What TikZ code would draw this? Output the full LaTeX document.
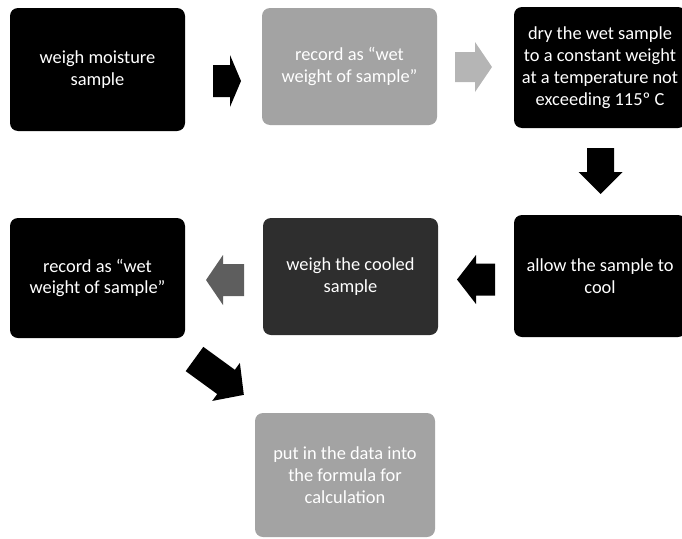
\documentclass[tikz,border=0pt]{standalone}
\usepackage{fontspec}
\setmainfont{Carlito}
\definecolor{stepgrey}{HTML}{A3A3A3}
\definecolor{stepdark}{HTML}{2E2E2E}
\definecolor{arrowlight}{HTML}{B5B5B5}
\definecolor{arrowmid}{HTML}{5E5E5E}
% block arrow: style, tail centre, angle, length, shaft half-width, head half-width, head length
\newcommand\blockarr[7]{%
  \fill[#1,shift={#2},rotate=#3] (0,-#5) -- ({#4-#7},-#5) -- ({#4-#7},-#6) -- (#4,0)
    -- ({#4-#7},#6) -- ({#4-#7},#5) -- (0,#5) -- cycle;}
\begin{document}
\begin{tikzpicture}[x=1pt,y=-1pt,
  stepbox/.style={rounded corners=8pt, text=white, align=center, inner sep=0pt,
    font=\fontsize{18.4}{21.8}\selectfont},
]
\useasboundingbox (0,0) rectangle (682,538);

% process steps
\node[stepbox, fill=black, minimum width=175pt, minimum height=123pt] (b1) at (97.5,69.5)
  {weigh moisture\\sample};
\node[stepbox, fill=stepgrey, minimum width=175pt, minimum height=117pt] (b2) at (349.5,66.5)
  {record as “wet\\weight of sample”};
\node[stepbox, fill=black, minimum width=172pt, minimum height=121pt] (b3) at (600,67.5)
  {dry the wet sample\\to a constant weight\\at a temperature not\\exceeding 115º C};
\node[stepbox, fill=black, minimum width=172pt, minimum height=122pt] (b4) at (600,276)
  {allow the sample to\\cool};
\node[stepbox, fill=stepdark, minimum width=175pt, minimum height=117pt] (b5) at (350.5,276.5)
  {weigh the cooled\\sample};
\node[stepbox, fill=black, minimum width=175pt, minimum height=120pt] (b6) at (97.5,278)
  {record as “wet\\weight of sample”};
\node[stepbox, fill=stepgrey, minimum width=180pt, minimum height=124pt] (b7) at (345,475)
  {put in the data into\\the formula for\\calculation};

% arrow tails between the steps
\coordinate (t12) at (213,81);
\coordinate (t23) at (455,67);
\coordinate (t34) at (600.5,148);
\coordinate (t45) at (495,279.5);
\coordinate (t56) at (244,280);
\coordinate (t67) at (194.5,359);

\blockarr{black}{(t12)}{0}{28}{16}{26}{11}
\blockarr{arrowlight}{(t23)}{0}{37}{15}{25}{17}
\blockarr{black}{(t34)}{-90}{46}{13.5}{22}{22}
\blockarr{black}{(t45)}{180}{38}{16}{24.5}{19}
\blockarr{arrowmid}{(t56)}{180}{38}{16}{25}{17}
\blockarr{black}{(t67)}{-36}{61}{15}{23.5}{22}
\end{tikzpicture}
\end{document}
